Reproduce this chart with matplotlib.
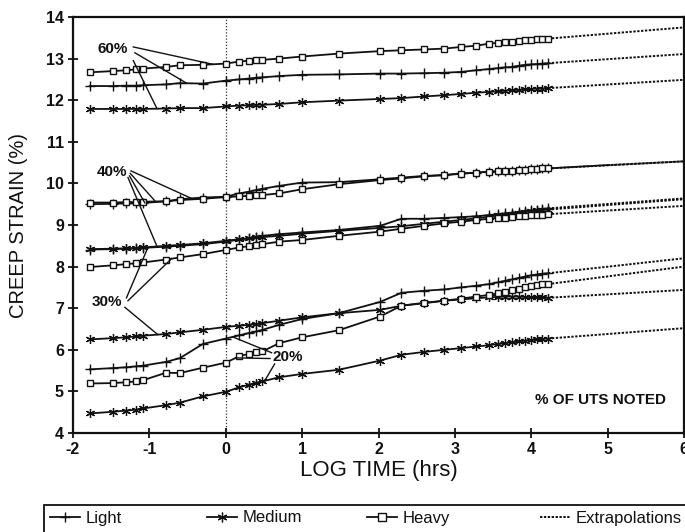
import numpy as np
import matplotlib
matplotlib.use("Agg")
import matplotlib.pyplot as plt
from matplotlib.lines import Line2D
from matplotlib.patches import Rectangle

plt.rcParams['font.family'] = ['Liberation Sans', 'DejaVu Sans']

# ---- data: creep strain (%) versus log10 time (hours) ----
log_time = [-1.78, -1.48, -1.30, -1.18, -1.08, -0.78, -0.60, -0.30, 0.00, 0.18,
            0.30, 0.40, 0.48, 0.70, 1.00, 1.48, 2.02, 2.30, 2.60, 2.86,
            3.08, 3.28, 3.45, 3.56, 3.66, 3.75, 3.84, 3.92, 4.00, 4.07,
            4.14, 4.22]

heavy_60 = [12.67, 12.70, 12.72, 12.74, 12.76, 12.80, 12.84, 12.85, 12.88, 12.93,
            12.95, 12.96, 12.97, 13.00, 13.05, 13.12, 13.18, 13.20, 13.22, 13.24,
            13.28, 13.31, 13.36, 13.38, 13.40, 13.41, 13.43, 13.44, 13.45, 13.46,
            13.47, 13.48]
light_60 = [12.34, 12.34, 12.35, 12.35, 12.36, 12.38, 12.41, 12.40, 12.47, 12.50,
            12.52, 12.54, 12.55, 12.58, 12.61, 12.62, 12.64, 12.64, 12.65, 12.66,
            12.68, 12.72, 12.75, 12.77, 12.79, 12.80, 12.83, 12.85, 12.86, 12.87,
            12.88, 12.89]
medium_60 = [11.79, 11.79, 11.79, 11.79, 11.79, 11.80, 11.81, 11.81, 11.85, 11.87,
             11.88, 11.89, 11.89, 11.91, 11.95, 11.99, 12.03, 12.05, 12.09, 12.12,
             12.15, 12.18, 12.20, 12.21, 12.23, 12.24, 12.25, 12.26, 12.27, 12.28,
             12.28, 12.29]

light_40 = [9.50, 9.51, 9.52, 9.52, 9.53, 9.57, 9.62, 9.66, 9.68, 9.76,
            9.80, 9.84, 9.87, 9.94, 10.02, 10.03, 10.10, 10.14, 10.18, 10.20,
            10.24, 10.26, 10.28, 10.29, 10.30, 10.31, 10.32, 10.33, 10.34, 10.35,
            10.36, 10.36]
heavy_40 = [9.54, 9.54, 9.55, 9.55, 9.56, 9.57, 9.60, 9.63, 9.67, 9.69,
            9.70, 9.71, 9.72, 9.76, 9.86, 9.98, 10.08, 10.12, 10.17, 10.20,
            10.23, 10.26, 10.28, 10.29, 10.30, 10.31, 10.32, 10.33, 10.34, 10.35,
            10.36, 10.36]
medium_40 = [8.42, 8.43, 8.44, 8.45, 8.46, 8.50, 8.52, 8.56, 8.62, 8.66,
             8.68, 8.70, 8.71, 8.74, 8.79, 8.86, 8.93, 8.97, 9.03, 9.08,
             9.12, 9.16, 9.20, 9.23, 9.25, 9.27, 9.30, 9.32, 9.34, 9.35,
             9.36, 9.37]

light_30 = [8.41, 8.42, 8.43, 8.44, 8.45, 8.48, 8.50, 8.54, 8.60, 8.65,
            8.68, 8.72, 8.74, 8.78, 8.82, 8.88, 8.98, 9.15, 9.15, 9.17,
            9.19, 9.21, 9.24, 9.26, 9.28, 9.30, 9.32, 9.34, 9.35, 9.37,
            9.38, 9.40]
heavy_30 = [7.99, 8.03, 8.06, 8.08, 8.10, 8.17, 8.22, 8.30, 8.40, 8.46,
            8.49, 8.52, 8.54, 8.60, 8.64, 8.74, 8.84, 8.91, 8.98, 9.04,
            9.08, 9.12, 9.15, 9.17, 9.18, 9.19, 9.21, 9.22, 9.23, 9.24,
            9.25, 9.26]
medium_30 = [6.25, 6.28, 6.30, 6.32, 6.34, 6.38, 6.42, 6.48, 6.55, 6.58,
             6.60, 6.62, 6.64, 6.70, 6.78, 6.88, 6.96, 7.06, 7.13, 7.18,
             7.21, 7.24, 7.26, 7.27, 7.28, 7.28, 7.28, 7.27, 7.27, 7.26,
             7.26, 7.25]

light_20 = [5.53, 5.56, 5.58, 5.60, 5.62, 5.71, 5.80, 6.14, 6.27, 6.35,
            6.40, 6.44, 6.48, 6.60, 6.74, 6.88, 7.15, 7.37, 7.42, 7.45,
            7.50, 7.54, 7.58, 7.62, 7.66, 7.69, 7.73, 7.76, 7.79, 7.81,
            7.83, 7.84]
heavy_20 = [5.19, 5.20, 5.22, 5.24, 5.27, 5.45, 5.44, 5.57, 5.69, 5.85,
            5.90, 5.94, 5.96, 6.16, 6.30, 6.47, 6.80, 7.06, 7.12, 7.18,
            7.23, 7.28, 7.32, 7.36, 7.40, 7.44, 7.47, 7.50, 7.53, 7.55,
            7.57, 7.58]
medium_20 = [4.47, 4.51, 4.54, 4.56, 4.59, 4.67, 4.73, 4.88, 4.99, 5.10,
             5.16, 5.21, 5.24, 5.34, 5.42, 5.52, 5.74, 5.88, 5.95, 6.00,
             6.04, 6.08, 6.11, 6.14, 6.16, 6.18, 6.20, 6.22, 6.24, 6.25,
             6.26, 6.27]

# longer test record for the 40 % light specimen (plain line, no symbols)
light_40_tail_time = [4.22, 4.60, 5.00]
light_40_tail = [10.36, 10.40, 10.44]

# extrapolated strain at log time = 6
extrap_time = 6.0
extrap_end = {
    'heavy_60': 13.75, 'light_60': 13.11, 'medium_60': 12.49,
    'light_40': 10.53, 'heavy_40': 10.53, 'medium_40': 9.62,
    'light_30': 9.64, 'heavy_30': 9.46, 'medium_30': 7.44,
    'light_20': 8.20, 'heavy_20': 8.00, 'medium_20': 6.52,
}

x_ticks = [-2, -1, 0, 1, 2, 3, 4, 5, 6]
y_ticks = [4, 5, 6, 7, 8, 9, 10, 11, 12, 13, 14]

# ---- styles ----
INK = '#111111'
styles = {
    'Light': dict(marker='+', ms=6.5, mew=1.0),
    'Medium': dict(marker=(6, 2, 0), ms=6.5, mew=0.9),
    'Heavy': dict(marker='s', ms=5, mew=1.0, mfc='white'),
}
extrap_style = dict(color=INK, lw=1.4, dashes=(1.2, 0.8))

series = [
    ('Heavy', 'heavy_60', heavy_60), ('Light', 'light_60', light_60),
    ('Medium', 'medium_60', medium_60),
    ('Light', 'light_40', light_40), ('Heavy', 'heavy_40', heavy_40),
    ('Medium', 'medium_40', medium_40),
    ('Light', 'light_30', light_30), ('Heavy', 'heavy_30', heavy_30),
    ('Medium', 'medium_30', medium_30),
    ('Light', 'light_20', light_20), ('Heavy', 'heavy_20', heavy_20),
    ('Medium', 'medium_20', medium_20),
]

W, H = 685, 532
fig = plt.figure(figsize=(W / 100, H / 100), dpi=100)
ax = fig.add_axes([73 / W, (H - 433) / H, 611 / W, 416 / H])

ax.axvline(0, color='#333333', lw=0.9, ls=(0, (1, 1.5)), zorder=1)

for material, key, vals in series:
    st = styles[material]
    ax.plot(log_time, vals, color=INK, lw=1.3, mec=INK,
            mfc=st.get('mfc', INK), marker=st['marker'], ms=st['ms'],
            mew=st['mew'], zorder=3)
    if key == 'light_40':
        ax.plot(light_40_tail_time, light_40_tail, color=INK, lw=1.3, zorder=3)
        x0, y0 = light_40_tail_time[-1], light_40_tail[-1]
    else:
        x0, y0 = log_time[-1], vals[-1]
    ax.plot([x0, extrap_time], [y0, extrap_end[key]], **extrap_style, zorder=2)

# ---- stress-level labels with leader lines ----
def leader(start, vals, x_on):
    y_on = np.interp(x_on, log_time, vals)
    ax.plot([start[0], x_on], [start[1], y_on], color=INK, lw=1.0, zorder=4)

lab_kw = dict(fontsize=11, fontweight='bold', ha='center', va='center',
              color=INK, zorder=5)

ax.text(-1.48, 13.23, '60%', **lab_kw)
leader((-1.21, 13.28), heavy_60, -0.17)
leader((-1.19, 13.14), light_60, -0.51)
leader((-1.21, 12.95), medium_60, -0.90)

ax.text(-1.49, 10.27, '40%', **lab_kw)
leader((-1.24, 10.30), light_40, -0.45)
leader((-1.25, 10.24), heavy_40, -0.92)
leader((-1.26, 10.18), light_40, -1.06)
leader((-1.28, 10.14), medium_40, -0.90)

ax.text(-1.55, 7.15, '30%', **lab_kw)
leader((-1.30, 7.25), light_30, -1.02)
leader((-1.28, 7.18), heavy_30, -0.71)
leader((-1.32, 7.02), medium_30, -0.89)

ax.text(0.81, 5.83, '20%', **lab_kw)
leader((0.60, 5.93), light_20, 0.09)
leader((0.58, 5.79), heavy_20, 0.13)
leader((0.64, 5.66), medium_20, 0.51)

ax.text(4.91, 4.79, '% OF UTS NOTED', fontsize=11, fontweight='bold',
        ha='center', va='center', color=INK)

# ---- axes ----
ax.set_xlim(-2, 6)
ax.set_ylim(4, 14)
ax.set_xticks(x_ticks)
ax.set_yticks(y_ticks)
ax.set_xticklabels([str(t) for t in x_ticks])
ax.set_yticklabels([str(t) for t in y_ticks])
ax.tick_params(direction='inout', length=7, width=1.3, colors=INK,
               labelsize=11.5, pad=3)
for lab in ax.get_xticklabels() + ax.get_yticklabels():
    lab.set_fontweight('bold')
for sp in ax.spines.values():
    sp.set_linewidth(1.6)
    sp.set_color(INK)

ax.set_xlabel('LOG TIME (hrs)', fontsize=16, color=INK)
ax.set_ylabel('CREEP STRAIN (%)', fontsize=14.5, color=INK)
ax.xaxis.set_label_coords(0.50, -0.066)
ax.yaxis.set_label_coords(-0.073, 0.5)

# ---- legend strip ----
fig.add_artist(Rectangle((44 / W, -0.2), 1.0, 0.2 + (H - 505) / H,
                         transform=fig.transFigure, fill=False,
                         ec=INK, lw=1.3))

legend_items = [
    ('Light', Line2D([], [], color=INK, lw=1.3, marker='+', ms=7, mew=1.0), 50),
    ('Medium', Line2D([], [], color=INK, lw=1.3, marker=(6, 2, 0), ms=7,
                      mew=0.9), 207),
    ('Heavy', Line2D([], [], color=INK, lw=1.3, marker='s', ms=5.5, mew=1.0,
                     mfc='white', mec=INK), 367),
    ('Extrapolations', Line2D([], [], **extrap_style), 540),
]
for text, handle, px in legend_items:
    fig.legend([handle], [text], loc='center left',
               bbox_to_anchor=(px / W, (H - 518) / H), frameon=False,
               borderaxespad=0, borderpad=0, handlelength=1.8,
               handletextpad=0.35, fontsize=12, labelcolor=INK)

fig.savefig('out.png', dpi=100)
